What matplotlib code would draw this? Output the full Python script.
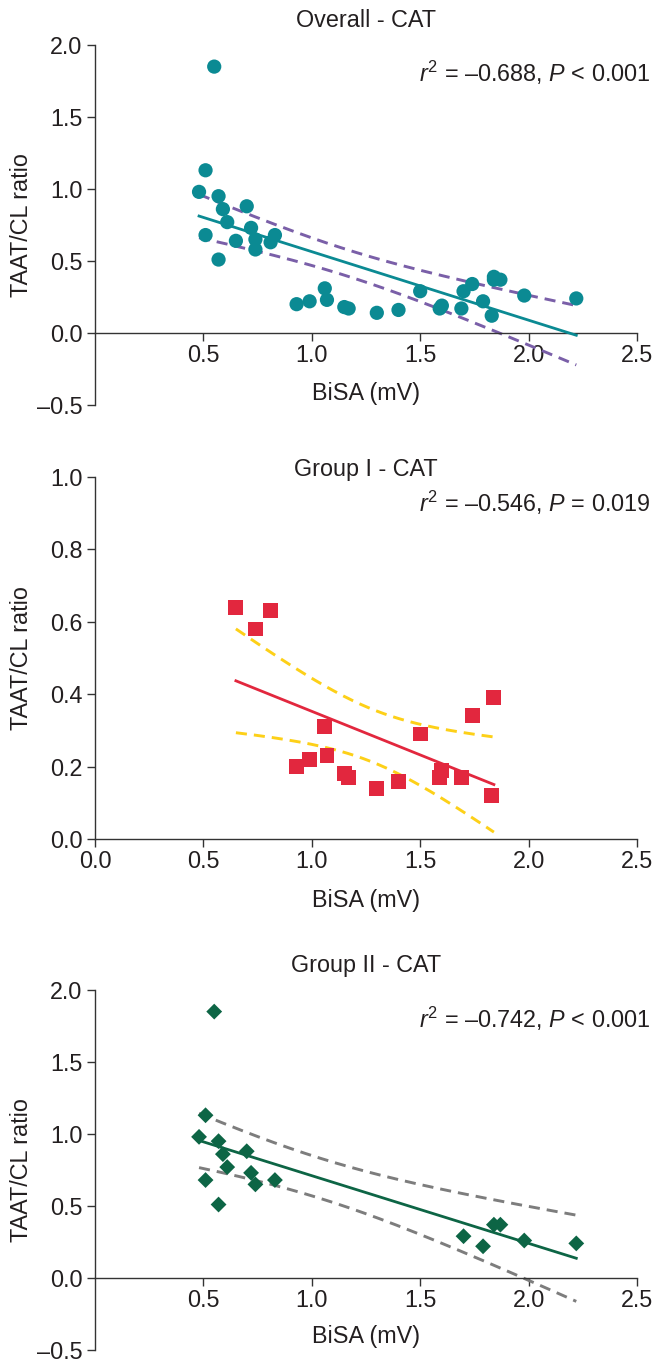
import matplotlib
matplotlib.use("Agg")
import matplotlib.pyplot as plt
import numpy as np

plt.rcParams['font.family'] = ['Liberation Sans', 'DejaVu Sans']
plt.rcParams['mathtext.fontset'] = 'custom'
plt.rcParams['mathtext.rm'] = 'Liberation Sans'
plt.rcParams['mathtext.it'] = 'Liberation Sans:italic'
FS = 16.8
plt.rcParams['font.size'] = FS

INK = '#231f20'

# Group I (red squares)
g1_bisa = [0.65, 0.74, 0.81, 0.93, 0.99, 1.06, 1.07, 1.15, 1.17, 1.30,
           1.40, 1.50, 1.59, 1.60, 1.69, 1.74, 1.83, 1.84]
g1_ratio = [0.64, 0.58, 0.63, 0.20, 0.22, 0.31, 0.23, 0.18, 0.17, 0.14,
            0.16, 0.29, 0.17, 0.19, 0.17, 0.34, 0.12, 0.39]

# Group II (green diamonds)
g2_bisa = [0.48, 0.51, 0.51, 0.55, 0.57, 0.57, 0.59, 0.61, 0.70, 0.72,
           0.74, 0.83, 1.70, 1.79, 1.84, 1.87, 1.98, 2.22]
g2_ratio = [0.98, 1.13, 0.68, 1.85, 0.95, 0.51, 0.86, 0.77, 0.88, 0.73,
            0.65, 0.68, 0.29, 0.22, 0.37, 0.37, 0.26, 0.24]

# overall = both groups together
all_bisa = g1_bisa + g2_bisa
all_ratio = g1_ratio + g2_ratio

stats_text = {
    'overall': r'$r^2$ = –0.688, $P$ < 0.001',
    'g1': r'$r^2$ = –0.546, $P$ = 0.019',
    'g2': r'$r^2$ = –0.742, $P$ < 0.001',
}

# two-sided 95% t quantiles by degrees of freedom
t95 = {16: 2.120, 34: 2.032}


def fit_with_ci(x, y):
    x = np.asarray(x)
    y = np.asarray(y)
    n = len(x)
    slope, icpt = np.polyfit(x, y, 1)
    resid = y - (slope * x + icpt)
    s = np.sqrt(np.sum(resid ** 2) / (n - 2))
    sxx = np.sum((x - x.mean()) ** 2)
    xs = np.linspace(x.min(), x.max(), 200)
    ys = slope * xs + icpt
    hw = t95[n - 2] * s * np.sqrt(1 / n + (xs - x.mean()) ** 2 / sxx)
    return xs, ys, ys - hw, ys + hw


def style_axes(ax, ylim, yticks, xticks):
    ax.set_xlim(0, 2.5)
    ax.set_ylim(*ylim)
    for side in ['top', 'right']:
        ax.spines[side].set_visible(False)
    ax.spines['bottom'].set_position(('data', 0))
    for side in ['left', 'bottom']:
        ax.spines[side].set_color('#333333')
        ax.spines[side].set_linewidth(1.0)
    ax.set_yticks(yticks)
    ax.set_yticklabels([f'{v:.1f}'.replace('-', '\u2013') for v in yticks])
    ax.set_xticks(xticks)
    ax.set_xticklabels([f'{v:.1f}' for v in xticks])
    ax.tick_params(axis='both', direction='out', length=6, width=1,
                   color='#333333', labelcolor=INK, labelsize=FS)
    ax.tick_params(axis='y', pad=3)
    ax.tick_params(axis='x', pad=2)
    ax.patch.set_alpha(0)


fig = plt.figure(figsize=(6.55, 13.64), dpi=100)

panels = [
    dict(pos=[0.1450, 0.7031, 0.8275, 0.2639], x=all_bisa, y=all_ratio,
         title='Overall - CAT', title_y=1.069, stat=stats_text['overall'], stat_y=0.922,
         ylim=(-0.5, 2.0), yticks=[-0.5, 0.0, 0.5, 1.0, 1.5, 2.0],
         xticks=[0.5, 1.0, 1.5, 2.0, 2.5], xlabel_y=0.033,
         mcolor='#0b8a93', marker='o', ms=105, lcolor='#0b8a93', dcolor='#7a5fa8'),
    dict(pos=[0.1450, 0.3849, 0.8275, 0.2654], x=g1_bisa, y=g1_ratio,
         title='Group I - CAT', title_y=1.022, stat=stats_text['g1'], stat_y=0.928,
         ylim=(0.0, 1.0), yticks=[0.0, 0.2, 0.4, 0.6, 0.8, 1.0],
         xticks=[0.0, 0.5, 1.0, 1.5, 2.0, 2.5], xlabel_y=-0.169,
         mcolor='#e2273e', marker='s', ms=115, lcolor='#e2273e', dcolor='#fdd018'),
    dict(pos=[0.1450, 0.0103, 0.8275, 0.2639], x=g2_bisa, y=g2_ratio,
         title='Group II - CAT', title_y=1.069, stat=stats_text['g2'], stat_y=0.919,
         ylim=(-0.5, 2.0), yticks=[-0.5, 0.0, 0.5, 1.0, 1.5, 2.0],
         xticks=[0.5, 1.0, 1.5, 2.0, 2.5], xlabel_y=0.036,
         mcolor='#0d6545', marker='D', ms=65, lcolor='#0d6545', dcolor='#7d7d7d'),
]

for p in panels:
    ax = fig.add_axes(p['pos'])
    style_axes(ax, p['ylim'], p['yticks'], p['xticks'])

    xs, ys, lo, hi = fit_with_ci(p['x'], p['y'])
    ax.plot(xs, lo, color=p['dcolor'], lw=2.1, dashes=(3.8, 2.4), zorder=2)
    ax.plot(xs, hi, color=p['dcolor'], lw=2.1, dashes=(3.8, 2.4), zorder=2)
    ax.plot(xs, ys, color=p['lcolor'], lw=2.0, zorder=3)
    ax.scatter(p['x'], p['y'], s=p['ms'], marker=p['marker'], color=p['mcolor'],
               edgecolors='none', zorder=4, clip_on=False)

    ax.text(0.5, p['title_y'], p['title'], transform=ax.transAxes,
            ha='center', va='center', color=INK, fontsize=FS)
    ax.text(1.024, p['stat_y'], p['stat'], transform=ax.transAxes,
            ha='right', va='center', color=INK, fontsize=FS)
    ax.set_xlabel('BiSA (mV)', color=INK, fontsize=FS, va='center')
    ax.xaxis.set_label_coords(0.5, p['xlabel_y'])
    ax.set_ylabel('TAAT/CL ratio', color=INK, fontsize=FS, va='center')
    ax.yaxis.set_label_coords(-0.135, 0.5)

fig.savefig('out.png', dpi=100)
